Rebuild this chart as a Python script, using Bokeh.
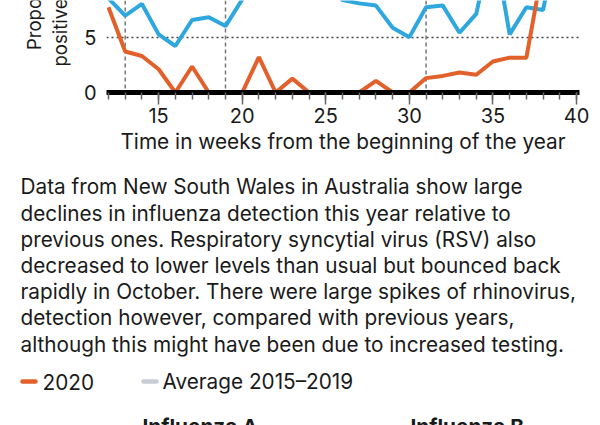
from math import pi
from bokeh.plotting import figure
from bokeh.layouts import column, row
from bokeh.models import Range1d, SingleIntervalTicker, FixedTicker, Span
from bokeh.core.properties import value
from bokeh.embed import file_html
from bokeh.resources import INLINE

FONT = "Inter"
FS = "20.75px"
TXT = "#1a1a1a"
ORANGE = "#E2602A"
BLUE = "#2EA7DF"
LEGEND_GREY = "#C8CDD5"

# ---- data (proportion positive, %) ----
weeks_2020 = list(range(12, 39))
share_2020 = [7.7, 3.7, 3.3, 2.1, 0.0, 2.35, 0.0, 0.0, 0.0, 3.2, 0.0, 1.25, 0.0, 0.0,
              0.0, 0.0, 1.05, 0.0, 0.0, 1.3, 1.5, 1.8, 1.6, 2.8, 3.15, 3.15, 11.5]
weeks_avg = list(range(12, 40))
share_avg = [8.5, 6.95, 8.0, 5.25, 4.2, 6.55, 6.8, 6.0, 8.4, 10.5, 12.0, 12.5, 11.5, 10.0,
             8.35, 8.05, 7.85, 5.85, 5.0, 7.7, 7.85, 5.4, 7.1, 14.0, 5.25, 7.7, 7.45, 15.0]
event_weeks = [13, 19, 31]
x_tick_interval = 5
y_ticks = [0, 5, 10, 15, 20]

x_axis_label = "Time in weeks from the beginning of the year"
y_label_lines = ["Proportion", "positive"]
caption_lines = [
    "Data from New South Wales in Australia show large",
    "declines in influenza detection this year relative to",
    "previous ones. Respiratory syncytial virus (RSV) also",
    "decreased to lower levels than usual but bounced back",
    "rapidly in October. There were large spikes of rhinovirus,",
    "detection however, compared with previous years,",
    "although this might have been due to increased testing.",
]
legend_labels = ["2020", "Average 2015\u20132019"]
panel_titles = ["Influenza A", "Influenza B"]

W = 600
H1 = 168
WL = 80


def blank(fig):
    try:
        fig.frame_align = False
    except Exception:
        pass
    fig.outline_line_color = None
    fig.background_fill_color = "white"
    fig.border_fill_color = "white"


# ---- y-axis title strip (left) ----
r = figure(width=WL, height=H1, x_range=Range1d(0, WL), y_range=Range1d(0, H1),
           x_axis_type=None, y_axis_type=None, output_backend="svg",
           toolbar_location=None, min_border=0)
blank(r)
r.grid.visible = False
r.text(x=[33.5, 59], y=[H1 - 49.5, H1 - 66], text=y_label_lines, angle=pi / 2,
       text_font=value(FONT), text_font_size="18.5px", text_align="left",
       text_baseline="alphabetic", text_color=TXT)

# ---- chart ----
p = figure(width=W - WL, height=H1, x_range=Range1d(11.881, 40.178), y_range=Range1d(0, 8.31),
           output_backend="svg", toolbar_location=None,
           min_border_left=104 - WL, min_border_right=21, min_border_top=0, min_border_bottom=76)
blank(p)
p.xgrid.visible = False
p.ygrid.ticker = FixedTicker(ticks=y_ticks)
p.ygrid.grid_line_color = "#444444"
p.ygrid.grid_line_dash = "2 3"
p.ygrid.grid_line_width = 1.5

for wk in event_weeks:
    p.add_layout(Span(location=wk, dimension="height", line_color="#777777",
                      line_dash="4 3", line_width=1.5, level="underlay"))

p.line(weeks_avg, share_avg, line_color=BLUE, line_width=4)
p.line(weeks_2020, share_2020, line_color=ORANGE, line_width=4)

xa = p.xaxis[0]
xa.ticker = SingleIntervalTicker(interval=x_tick_interval, num_minor_ticks=5)
xa.axis_line_width = 5
xa.axis_line_color = "black"
xa.major_tick_in = 0
xa.minor_tick_in = 0
xa.major_tick_out = 12
xa.minor_tick_out = 7
xa.major_tick_line_color = "#666666"
xa.minor_tick_line_color = "#666666"
xa.major_tick_line_width = 1.5
xa.minor_tick_line_width = 1.5
xa.major_label_standoff = 3
xa.major_label_text_font = FONT
xa.major_label_text_font_size = "20px"
xa.major_label_text_color = TXT
xa.axis_label = x_axis_label
xa.axis_label_text_font = FONT
xa.axis_label_text_font_size = "20.8px"
xa.axis_label_text_font_style = "normal"
xa.axis_label_text_color = TXT
xa.axis_label_standoff = 3

ya = p.yaxis[0]
ya.ticker = FixedTicker(ticks=y_ticks)
ya.axis_line_color = None
ya.major_tick_line_color = None
ya.minor_tick_line_color = None
ya.major_label_standoff = 4
ya.major_label_text_font = FONT
ya.major_label_text_font_size = "20px"
ya.major_label_text_color = TXT

# ---- caption, legend and panel titles ----
H2 = 425 - H1
q = figure(width=W, height=H2, x_range=Range1d(0, W), y_range=Range1d(H2, 0),
           x_axis_type=None, y_axis_type=None, output_backend="svg",
           toolbar_location=None, min_border=0)
blank(q)
q.grid.visible = False

q.text(x=[20] * len(caption_lines), y=[18.3 + 26.2 * i for i in range(len(caption_lines))],
       text=caption_lines, text_font=value(FONT), text_font_size=FS,
       text_baseline="alphabetic", text_color=TXT)

q.segment(x0=[22, 143], y0=[213, 213], x1=[35, 156], y1=[213, 213],
          line_color=[ORANGE, LEGEND_GREY], line_width=4.5, line_cap="round")
q.text(x=[42, 162], y=[213, 213], text=legend_labels, text_font=value(FONT),
       text_font_size=FS, text_baseline="middle", text_color=TXT)

q.text(x=[142, 410], y=[245.5, 245.5], text=panel_titles, text_font=value(FONT),
       text_font_size=FS, text_font_style="bold", text_baseline="top", text_color=TXT)

layout = column(row(r, p), q)
open("out.html", "w").write(file_html(layout, INLINE))
